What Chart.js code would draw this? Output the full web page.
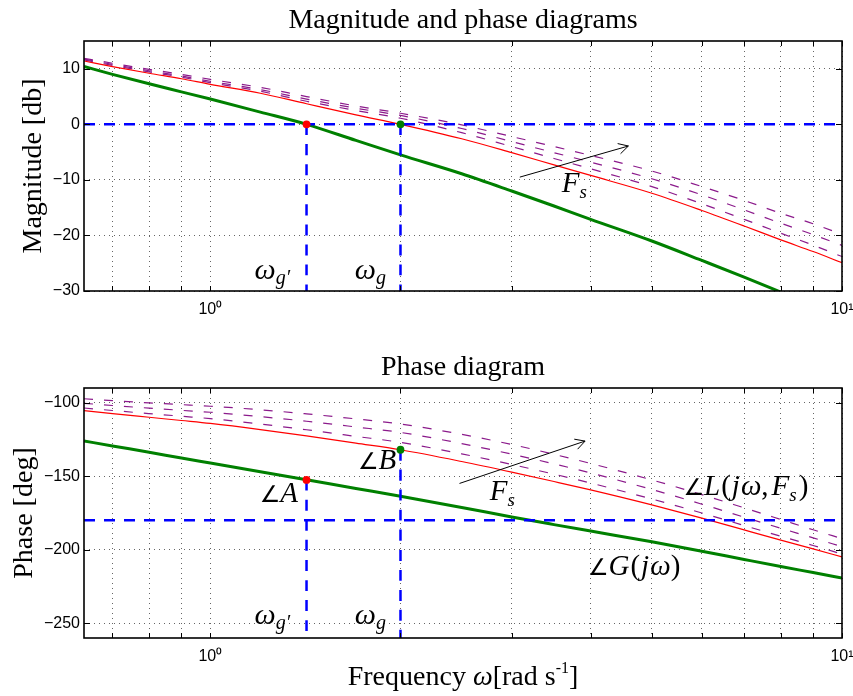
<!DOCTYPE html>
<html>
<head>
<meta charset="utf-8">
<script src="https://cdn.jsdelivr.net/npm/chart.js@4.4.1/dist/chart.umd.min.js"></script>
<style>
  html, body { margin: 0; padding: 0; background: #fff; }
  #wrap { position: relative; width: 853px; height: 696px; overflow: hidden; }
  #mag { position: absolute; left: 0; top: 0; }
  #phase { position: absolute; left: 0; top: 340px; }
</style>
</head>
<body>
<div id="wrap">
  <canvas id="mag" width="853" height="340"></canvas>
  <canvas id="phase" width="853" height="356"></canvas>
</div>
<script>
(function () {
    "use strict";

    // frequency grid (rad/s) the curves are read at
    var omega = [0.631, 0.7, 0.8, 0.9, 1, 1.2, 1.42, 1.7, 2, 2.5, 3, 3.5, 4, 5, 6, 7, 8, 9, 10];

    // magnitude [dB]
    var magG   = [10.4, 9.0, 7.3, 5.85, 4.55, 2.2, 0, -2.9, -5.5, -8.9, -12.0, -14.7, -17.1, -21.0, -24.5, -27.5, -30.2, -32.6, -34.8];
    var magL   = [11.4, 10.4, 9.2, 8.2, 7.2, 5.6, 3.7, 1.7, 0, -2.6, -5.1, -7.3, -9.2, -12.4, -15.5, -18.3, -20.8, -22.9, -24.9];
    var magFs1 = [11.9, 11.0, 9.9, 9.0, 8.1, 6.65, 5.0, 3.3, 2.0, -0.1, -2.2, -4.0, -5.6, -8.4, -11.2, -13.7, -16.0, -17.9, -19.8];
    var magFs2 = [11.75, 10.8, 9.65, 8.7, 7.75, 6.25, 4.55, 2.9, 1.6, -0.75, -3.1, -5.1, -6.8, -9.8, -12.7, -15.4, -17.8, -19.85, -21.8];
    var magFs3 = [11.6, 10.6, 9.45, 8.5, 7.5, 5.95, 4.15, 2.5, 1.1, -1.5, -4.0, -6.15, -8.0, -11.2, -14.3, -17.1, -19.6, -21.75, -23.8];

    // phase [deg]
    var phaseG   = [-126.0, -129.4, -133.7, -137.6, -141.0, -146.9, -152.4, -158.3, -163.6, -171.2, -177.7, -182.9, -187.3, -194.6, -201.0, -206.6, -211.4, -215.5, -219.2];
    var phaseL   = [-105.4, -107.4, -109.9, -112.1, -114.1, -118.3, -122.6, -127.5, -132.0, -140.0, -147.2, -153.6, -159.3, -169.5, -178.5, -186.5, -193.4, -199.4, -204.9];
    var phaseFs1 = [-97.3, -98.6, -100.1, -101.3, -102.4, -104.8, -107.6, -111.0, -114.5, -121.5, -128.4, -135.1, -141.3, -152.5, -162.5, -171.5, -179.4, -186.4, -192.4];
    var phaseFs2 = [-100.4, -101.9, -103.7, -105.2, -106.5, -109.5, -112.6, -116.5, -120.2, -127.8, -135.0, -141.6, -147.8, -159.0, -169.0, -177.8, -185.4, -191.9, -197.9];
    var phaseFs3 = [-103.6, -105.3, -107.4, -109.2, -110.8, -114.5, -118.4, -122.9, -127.0, -134.8, -142.0, -148.6, -154.6, -165.5, -175.0, -183.5, -190.8, -197.1, -202.9];

    // crossover frequencies and marked points
    var wgPrime = 1.42, wg = 2;
    var magRef = 0, phaseRef = -180;
    var phaseA = -152.5, phaseB = -132.0;

    // axes
    var xMin = Math.pow(10, -0.2), xMax = 10;
    var xTickValues = [0.7, 0.8, 0.9, 1, 2, 3, 4, 5, 6, 7, 8, 9, 10];
    var xTickLabels = ['', '', '', '10\u2070', '', '', '', '', '', '', '', '', '10\u00b9'];
    var magRange = [-30, 15], magTicks = [-30, -20, -10, 0, 10];
    var phaseRange = [-260, -90], phaseTicks = [-250, -200, -150, -100];

    var SANS = '"Liberation Sans", Arial, sans-serif';
    var SERIF = '"Liberation Serif", "Times New Roman", serif';
    var SYM = '"DejaVu Sans", sans-serif';
    var GREEN = '#008000', RED = '#ff0000', BLUE = '#0000ff', PURPLE = '#8b1a8b';

    function pts(xs, ys) {
        return xs.map(function (x, i) { return {x: x, y: ys[i]}; });
    }

    function curve(data, color, width, dash, order) {
        return {
            data: data, borderColor: color, borderWidth: width, borderDash: dash || [],
            pointRadius: 0, cubicInterpolationMode: 'monotone', fill: false, order: order
        };
    }

    function dots(data, colors) {
        return {
            data: data, showLine: false, pointRadius: 3.9, pointBorderWidth: 0,
            pointBackgroundColor: colors, pointBorderColor: colors, order: 0
        };
    }

    function minus(v) {
        return v < 0 ? '\u2212' + Math.abs(v) : String(v);
    }

    // text made of pieces: font, text, baseline shift
    function pieceWidth(ctx, parts) {
        var w = 0;
        parts.forEach(function (p) { ctx.font = p.f; w += ctx.measureText(p.t).width + (p.dx || 0); });
        return w;
    }
    function drawPieces(ctx, x, y, parts) {
        ctx.textAlign = 'left';
        ctx.textBaseline = 'alphabetic';
        parts.forEach(function (p) {
            ctx.font = p.f;
            ctx.fillText(p.t, x, y + (p.dy || 0));
            x += ctx.measureText(p.t).width + (p.dx || 0);
        });
    }

    var IT = 'italic 29px ' + SERIF, SUB = 'italic 19px ' + SERIF, UP = '29px ' + SERIF, ANG = '23px ' + SYM;
    var OMEGA = 'italic 30px ' + SERIF, OSUB = 'italic 20px ' + SERIF;
    function omegaSub(s) { return [{f: OMEGA, t: '\u03c9'}, {f: OSUB, t: s, dy: 5}]; }
    var fsLabel = [{f: IT, t: 'F'}, {f: SUB, t: 's', dy: 6}];

    function decor(cfg) {
        return {
            id: 'decor',
            afterDatasetsDraw: function (chart) {
                var ctx = chart.ctx, xs = chart.scales.x, ys = chart.scales.y;
                ctx.save();
                ctx.fillStyle = '#000';
                ctx.strokeStyle = '#000';
                ctx.lineWidth = 1;
                cfg.arrows.forEach(function (a) {
                    var x1 = xs.getPixelForValue(a.from[0]), y1 = ys.getPixelForValue(a.from[1]);
                    var x2 = xs.getPixelForValue(a.to[0]), y2 = ys.getPixelForValue(a.to[1]);
                    var ang = Math.atan2(y2 - y1, x2 - x1), L = 11, w = 0.5;
                    ctx.beginPath();
                    ctx.moveTo(x1, y1); ctx.lineTo(x2, y2);
                    ctx.moveTo(x2 - L * Math.cos(ang - w), y2 - L * Math.sin(ang - w));
                    ctx.lineTo(x2, y2);
                    ctx.lineTo(x2 - L * Math.cos(ang + w), y2 - L * Math.sin(ang + w));
                    ctx.stroke();
                });
                cfg.texts.forEach(function (t) {
                    drawPieces(ctx, xs.getPixelForValue(t.at[0]), ys.getPixelForValue(t.at[1]), t.parts);
                });
                ctx.restore();
            },
            afterDraw: function (chart) {
                var ctx = chart.ctx, a = chart.chartArea, xs = chart.scales.x, ys = chart.scales.y;
                ctx.save();
                // inner tick marks
                ctx.strokeStyle = '#000';
                ctx.lineWidth = 1;
                ctx.beginPath();
                xTickValues.forEach(function (v) {
                    var px = Math.round(xs.getPixelForValue(v)) + 0.5;
                    ctx.moveTo(px, a.bottom); ctx.lineTo(px, a.bottom - 5);
                    ctx.moveTo(px, a.top); ctx.lineTo(px, a.top + 5);
                });
                cfg.yTicks.forEach(function (v) {
                    var py = Math.round(ys.getPixelForValue(v)) + 0.5;
                    ctx.moveTo(a.left, py); ctx.lineTo(a.left + 6, py);
                    ctx.moveTo(a.right, py); ctx.lineTo(a.right - 6, py);
                });
                ctx.stroke();
                // box
                ctx.lineWidth = 1.6;
                ctx.strokeRect(a.left, a.top, a.right - a.left, a.bottom - a.top);
                // title
                ctx.fillStyle = '#000';
                ctx.textAlign = 'center';
                ctx.textBaseline = 'alphabetic';
                ctx.font = '28px ' + SERIF;
                ctx.fillText(cfg.title, (a.left + a.right) / 2, a.top - cfg.titleGap);
                // y label
                ctx.save();
                ctx.translate(cfg.yLabelX, (a.top + a.bottom) / 2);
                ctx.rotate(-Math.PI / 2);
                ctx.fillText(cfg.yLabel, 0, 0);
                ctx.restore();
                // x label
                if (cfg.xLabel) {
                    var w = pieceWidth(ctx, cfg.xLabel);
                    drawPieces(ctx, (a.left + a.right) / 2 - w / 2, a.bottom + cfg.xLabelGap, cfg.xLabel);
                }
                ctx.restore();
            }
        };
    }

    function xScale(axisHeight) {
        return {
            type: 'logarithmic', min: xMin, max: xMax, bounds: 'data',
            afterBuildTicks: function (axis) {
                axis.ticks = xTickValues.map(function (v) { return {value: v}; });
                axis.min = xMin;
                axis.max = xMax;
            },
            afterFit: function (axis) {
                axis.height = axisHeight;
                axis.paddingLeft = 0;
                axis.paddingRight = 0;
            },
            grid: {color: '#666', lineWidth: 1, drawTicks: false},
            border: {display: false, dash: [1, 4]},
            ticks: {
                autoSkip: false, maxRotation: 0, minRotation: 0, padding: 9, color: '#000',
                font: {family: SANS, size: 16},
                callback: function (v, i) { return xTickLabels[i]; }
            }
        };
    }

    function yScale(range, ticks) {
        return {
            type: 'linear', min: range[0], max: range[1],
            afterBuildTicks: function (axis) {
                axis.ticks = ticks.map(function (v) { return {value: v}; });
                axis.min = range[0];
                axis.max = range[1];
            },
            afterFit: function (axis) { axis.width = 84; },
            grid: {color: '#666', lineWidth: 1, drawTicks: false},
            border: {display: false, dash: [1, 4]},
            ticks: {
                padding: 4, color: '#000', font: {family: SANS, size: 16},
                callback: function (v) { return minus(v); }
            }
        };
    }

    function baseOptions(pad, axisHeight, range, ticks) {
        return {
            responsive: false, animation: false, devicePixelRatio: 1, events: [],
            layout: {padding: {top: pad, right: 11, left: 0, bottom: 0}},
            plugins: {legend: {display: false}, tooltip: {enabled: false}},
            scales: {x: xScale(axisHeight), y: yScale(range, ticks)}
        };
    }

    // Magnitude diagram
    new Chart(document.getElementById('mag'), {
        type: 'line',
        data: {
            datasets: [
                dots([{x: wgPrime, y: magRef}, {x: wg, y: magRef}], [RED, GREEN]),
                curve([{x: xMin, y: magRef}, {x: xMax, y: magRef}], BLUE, 2.5, [11, 9], 1),
                curve([{x: wgPrime, y: magRef}, {x: wgPrime, y: magRange[0]}], BLUE, 2.5, [11, 9], 1),
                curve([{x: wg, y: magRef}, {x: wg, y: magRange[0]}], BLUE, 2.5, [11, 9], 1),
                curve(pts(omega, magG), GREEN, 3, null, 2),
                curve(pts(omega, magL), RED, 1.2, null, 3),
                curve(pts(omega, magFs1), PURPLE, 1.2, [9, 11], 4),
                curve(pts(omega, magFs2), PURPLE, 1.2, [9, 11], 4),
                curve(pts(omega, magFs3), PURPLE, 1.2, [9, 11], 4)
            ]
        },
        options: baseOptions(41, 49, magRange, magTicks),
        plugins: [decor({
            title: 'Magnitude and phase diagrams', titleGap: 13,
            yLabel: 'Magnitude [db]', yLabelX: 41,
            yTicks: magTicks,
            arrows: [{from: [3.09, -9.5], to: [4.59, -3.9]}],
            texts: [
                {at: [1.175, -27.8], parts: omegaSub('g\u2032')},
                {at: [1.693, -27.8], parts: omegaSub('g')},
                {at: [3.6, -12.2], parts: fsLabel}
            ]
        })]
    });

    // Phase diagram
    new Chart(document.getElementById('phase'), {
        type: 'line',
        data: {
            datasets: [
                dots([{x: wgPrime, y: phaseA}, {x: wg, y: phaseB}], [RED, GREEN]),
                curve([{x: xMin, y: phaseRef}, {x: xMax, y: phaseRef}], BLUE, 2.5, [11, 9], 1),
                curve([{x: wgPrime, y: phaseA}, {x: wgPrime, y: phaseRange[0]}], BLUE, 2.5, [11, 9], 1),
                curve([{x: wg, y: phaseB}, {x: wg, y: phaseRange[0]}], BLUE, 2.5, [11, 9], 1),
                curve(pts(omega, phaseG), GREEN, 3, null, 2),
                curve(pts(omega, phaseL), RED, 1.2, null, 3),
                curve(pts(omega, phaseFs1), PURPLE, 1.2, [9, 11], 4),
                curve(pts(omega, phaseFs2), PURPLE, 1.2, [9, 11], 4),
                curve(pts(omega, phaseFs3), PURPLE, 1.2, [9, 11], 4)
            ]
        },
        options: baseOptions(48, 58, phaseRange, phaseTicks),
        plugins: [decor({
            title: 'Phase diagram', titleGap: 13,
            yLabel: 'Phase [deg]', yLabelX: 32,
            yTicks: phaseTicks,
            xLabelGap: 47,
            xLabel: [
                {f: '28px ' + SERIF, t: 'Frequency '},
                {f: 'italic 28px ' + SERIF, t: '\u03c9'},
                {f: '28px ' + SERIF, t: '[rad s'},
                {f: '16px ' + SERIF, t: '-1', dy: -12},
                {f: '28px ' + SERIF, t: ']'}
            ],
            arrows: [{from: [2.48, -154.9], to: [3.92, -126.1]}],
            texts: [
                {at: [1.175, -250.3], parts: omegaSub('g\u2032')},
                {at: [1.693, -250.3], parts: omegaSub('g')},
                {at: [1.197, -167.4], parts: [{f: ANG, t: '\u2220'}, {f: IT, t: 'A'}]},
                {at: [1.713, -145.4], parts: [{f: ANG, t: '\u2220'}, {f: IT, t: 'B'}]},
                {at: [2.77, -166.3], parts: fsLabel},
                {at: [5.61, -162.9], parts: [
                    {f: ANG, t: '\u2220'}, {f: IT, t: 'L', dx: 1}, {f: UP, t: '(', dx: 1},
                    {f: IT, t: 'j', dx: 1}, {f: IT, t: '\u03c9'}, {f: UP, t: ',', dx: 3},
                    {f: IT, t: 'F'}, {f: SUB, t: 's', dy: 6, dx: 2}, {f: UP, t: ')'}
                ]},
                {at: [3.96, -217.4], parts: [
                    {f: ANG, t: '\u2220'}, {f: IT, t: 'G', dx: 1}, {f: UP, t: '(', dx: 1},
                    {f: IT, t: 'j', dx: 1}, {f: IT, t: '\u03c9'}, {f: UP, t: ')'}
                ]}
            ]
        })]
    });

})();
</script>
</body>
</html>
